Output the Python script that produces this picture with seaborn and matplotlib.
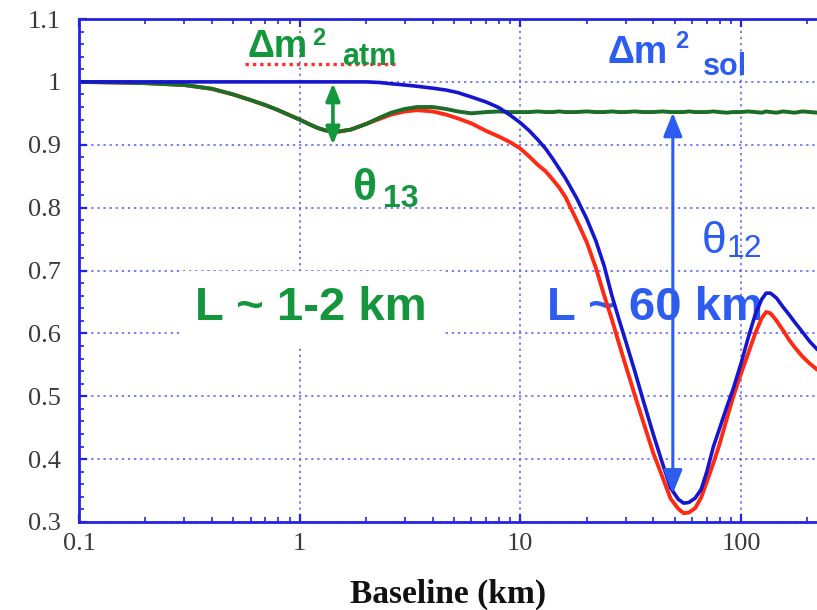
import matplotlib
matplotlib.use("Agg")
import matplotlib.pyplot as plt
from matplotlib.ticker import FixedLocator, NullFormatter, LogLocator
import numpy as np
import pandas as pd
import seaborn as sns

# Reactor anti-neutrino survival probability versus baseline
baseline_km = [0.1, 0.15, 0.2, 0.3, 0.4, 0.5, 0.6, 0.7, 0.8, 0.9,
               1.0, 1.1, 1.2, 1.3, 1.4, 1.5, 1.7, 2.0, 2.3, 2.6,
               3.0, 3.4, 4.0, 4.6, 5.2, 6.0, 7.0, 8.0, 9.0, 10,
               11, 12, 13, 14, 15, 16, 18, 20, 22, 24,
               26, 28, 30, 33, 36, 40, 44, 48, 52, 55,
               58, 62, 66, 70, 75, 80, 86, 92, 100, 108,
               116, 124, 130, 136, 145, 155, 165, 175, 190, 205,
               222]

# theta13 / atmospheric-splitting term only
p_theta13 = [1.000, 0.999, 0.998, 0.995, 0.989, 0.980, 0.971, 0.963, 0.955, 0.947,
             0.940, 0.933, 0.927, 0.923, 0.921, 0.921, 0.924, 0.933, 0.943, 0.951,
             0.957, 0.960, 0.960, 0.957, 0.953, 0.950, 0.952, 0.953, 0.952, 0.952,
             0.952, 0.953, 0.952, 0.952, 0.953, 0.952, 0.952, 0.953, 0.952, 0.952,
             0.953, 0.952, 0.952, 0.953, 0.952, 0.952, 0.953, 0.952, 0.952, 0.952,
             0.953, 0.952, 0.952, 0.952, 0.953, 0.952, 0.951, 0.952, 0.952, 0.953,
             0.952, 0.951, 0.953, 0.952, 0.951, 0.953, 0.952, 0.951, 0.953, 0.952,
             0.951]

# theta12 / solar-splitting term only
p_theta12 = [1.000, 1.000, 1.000, 1.000, 1.000, 1.000, 1.000, 1.000, 1.000, 1.000,
             1.000, 1.000, 1.000, 1.000, 1.000, 1.000, 1.000, 1.000, 0.999, 0.997,
             0.995, 0.993, 0.990, 0.987, 0.983, 0.976, 0.968, 0.959, 0.947, 0.935,
             0.922, 0.908, 0.894, 0.878, 0.862, 0.847, 0.815, 0.782, 0.747, 0.707,
             0.660, 0.622, 0.588, 0.540, 0.494, 0.440, 0.394, 0.354, 0.336, 0.330,
             0.331, 0.338, 0.352, 0.380, 0.420, 0.449, 0.482, 0.511, 0.552, 0.594,
             0.630, 0.654, 0.664, 0.664, 0.656, 0.642, 0.630, 0.618, 0.602, 0.587,
             0.574]

# full three-flavour survival probability
p_full = [1.000, 0.999, 0.998, 0.995, 0.989, 0.980, 0.971, 0.963, 0.955, 0.947,
          0.940, 0.933, 0.927, 0.923, 0.921, 0.921, 0.924, 0.933, 0.941, 0.948,
          0.953, 0.955, 0.953, 0.948, 0.942, 0.934, 0.922, 0.913, 0.904, 0.894,
          0.881, 0.868, 0.858, 0.845, 0.832, 0.817, 0.780, 0.745, 0.704, 0.660,
          0.622, 0.584, 0.549, 0.502, 0.460, 0.410, 0.372, 0.337, 0.321, 0.314,
          0.315, 0.322, 0.339, 0.364, 0.394, 0.424, 0.463, 0.498, 0.536, 0.569,
          0.600, 0.624, 0.634, 0.632, 0.620, 0.605, 0.590, 0.578, 0.563, 0.552,
          0.542]

y_ticks = [0.3, 0.4, 0.5, 0.6, 0.7, 0.8, 0.9, 1.0, 1.1]
y_tick_labels = ["0.3", "0.4", "0.5", "0.6", "0.7", "0.8", "0.9", "1", "1.1"]
x_ticks = [0.1, 1, 10, 100]
x_tick_labels = ["0.1", "1", "10", "100"]

sns.set_theme(style="white")
plt.rcParams["font.family"] = ["Liberation Sans", "DejaVu Sans"]

AX_BLUE = "#2424e0"
GRID_BLUE = "#5a5af2"
CURVE_BLUE = "#1616d0"
CURVE_RED = "#ff2a14"
CURVE_GREEN = "#1c6e26"
TEXT_GREEN = "#14963c"
TEXT_BLUE = "#2c5cf0"

fig = plt.figure(figsize=(8.17, 6.10), dpi=100)
ax = fig.add_axes([79 / 817, 1 - 522 / 610, 738 / 817, 503 / 610])

df = pd.DataFrame({"L": baseline_km, "t13": p_theta13,
                   "t12": p_theta12, "full": p_full})

sns.lineplot(data=df, x="L", y="full", ax=ax, color=CURVE_RED, lw=2.8, zorder=2.0)
sns.lineplot(data=df, x="L", y="t13", ax=ax, color=CURVE_GREEN, lw=2.8, zorder=2.2)
sns.lineplot(data=df, x="L", y="t12", ax=ax, color=CURVE_BLUE, lw=2.6, zorder=2.4)

ax.set_xscale("log")
ax.set_xlim(0.1, 221)
ax.set_ylim(0.3, 1.1)

ax.set_yticks(y_ticks)
ax.set_yticklabels(y_tick_labels)
ax.yaxis.set_minor_locator(FixedLocator(np.round(np.arange(0.3, 1.1001, 0.02), 3)))
ax.set_xticks(x_ticks)
ax.set_xticklabels(x_tick_labels)
ax.xaxis.set_minor_locator(LogLocator(base=10, subs=np.arange(2, 10)))
ax.xaxis.set_minor_formatter(NullFormatter())

ax.tick_params(axis="both", which="major", direction="in", length=6, width=1.6,
               color=AX_BLUE, labelcolor="#3a3a3a", labelsize=19,
               top=True, bottom=True, left=True, right=False)
ax.tick_params(axis="both", which="minor", direction="in", length=3.5, width=1.2,
               color=AX_BLUE, top=True, bottom=True, left=True, right=False)
ax.tick_params(axis="x", which="major", pad=8)
ax.tick_params(axis="y", which="major", pad=13)
for lab in ax.get_xticklabels() + ax.get_yticklabels():
    lab.set_family("Liberation Serif")

for side in ("left", "bottom", "top"):
    ax.spines[side].set_color(AX_BLUE)
    ax.spines[side].set_linewidth(2.0)
ax.spines["right"].set_visible(False)

ax.set_axisbelow(True)
ax.grid(True, which="major", color=GRID_BLUE, linestyle=(0, (1.5, 2.5)), lw=1.1)

ax.set_xlabel("Baseline (km)", family="Liberation Serif", fontweight="bold",
              fontsize=24, color="#111111", labelpad=17)
ax.set_ylabel("")

# Atmospheric splitting label with dotted red underline
ax.plot([0.565, 2.79], [1.029, 1.029], color="#ff3030", lw=2.4,
        linestyle=(0, (1, 1.2)), zorder=3, clip_on=False)
ax.text(0.583, 1.0396, "\u0394m", color=TEXT_GREEN, fontsize=27,
        fontweight="bold", zorder=4)
ax.text(1.137, 1.0587, "2", color=TEXT_GREEN, fontsize=17,
        fontweight="bold", zorder=4)
ax.text(1.555, 1.0269, "atm", color=TEXT_GREEN, fontsize=22,
        fontweight="bold", zorder=4)

# Solar splitting label
ax.text(24.9, 1.030, "\u0394m", color=TEXT_BLUE, fontsize=27,
        fontweight="bold", zorder=4)
ax.text(50.2, 1.0539, "2", color=TEXT_BLUE, fontsize=17,
        fontweight="bold", zorder=4)
ax.text(67.2, 1.011, "sol", color=TEXT_BLUE, fontsize=22,
        fontweight="bold", zorder=4)

# theta13 amplitude arrow and label
ax.annotate("", xy=(1.415, 0.9), xytext=(1.415, 0.998),
            arrowprops=dict(arrowstyle="<|-|>,head_length=0.7,head_width=0.28",
                            color=TEXT_GREEN, lw=2.6,
                            mutation_scale=15, shrinkA=0, shrinkB=0), zorder=5)
ax.text(1.744, 0.8122, "\u03b8", color=TEXT_GREEN, fontsize=32,
        fontweight="bold", zorder=4)
ax.text(2.385, 0.801, "13", color=TEXT_GREEN, fontsize=23,
        fontweight="bold", zorder=4)

# theta12 amplitude arrow and label
ax.annotate("", xy=(49.1, 0.345), xytext=(49.1, 0.951),
            arrowprops=dict(arrowstyle="<|-|>,head_length=0.8,head_width=0.32",
                            color=TEXT_BLUE, lw=2.2,
                            mutation_scale=18, shrinkA=0, shrinkB=0), zorder=5)
ax.text(66.5, 0.728, "\u03b8", color=TEXT_BLUE, fontsize=32, zorder=4)
ax.text(86.3, 0.7215, "12", color=TEXT_BLUE, fontsize=23, zorder=4)

# Baseline regimes
ax.text(0.3354, 0.6213, "L ~ 1-2 km", color=TEXT_GREEN, fontsize=34,
        fontweight="bold", zorder=3,
        bbox=dict(boxstyle="square,pad=0.32", facecolor="white", edgecolor="none"))
ax.text(13.2, 0.6213, "L ~ 60 km", color=TEXT_BLUE, fontsize=34,
        fontweight="bold", zorder=1.5)

fig.savefig("out.png", dpi=100, facecolor="white")
